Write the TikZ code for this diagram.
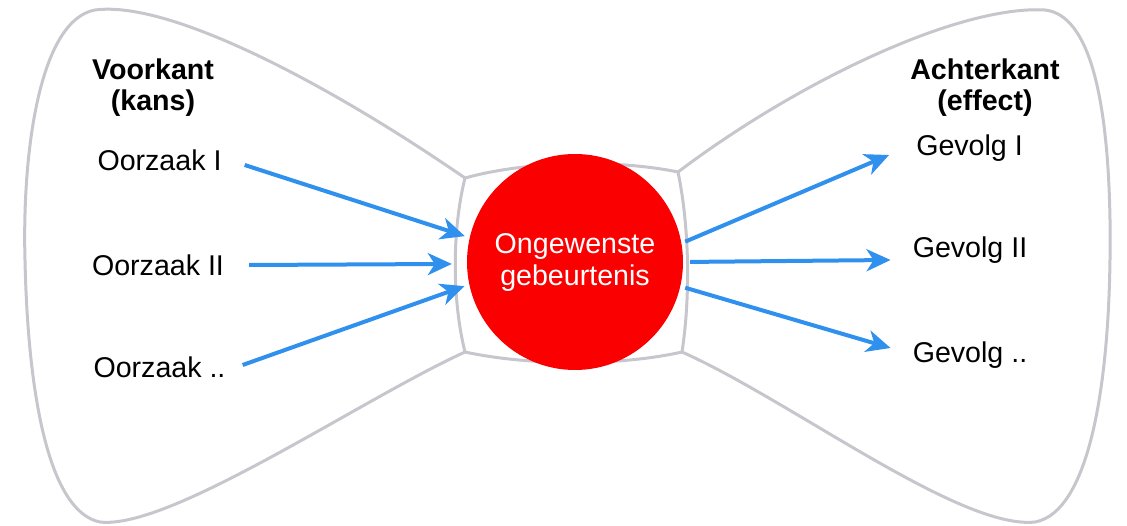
\documentclass[tikz,border=0pt]{standalone}
\usepackage{fontspec}
\setmainfont{Liberation Sans}
\usetikzlibrary{arrows.meta}
\definecolor{bowgray}{RGB}{198,198,204}
\definecolor{arrblue}{RGB}{48,144,238}
\definecolor{evred}{RGB}{250,0,0}
\tikzset{
  lbl/.style={inner sep=0pt, font=\fontsize{28.6}{31}\selectfont, text=black},
  hdr/.style={inner sep=0pt, align=center, font=\fontsize{28.6}{31}\selectfont\bfseries, text=black},
  arr/.style={draw=arrblue, line width=4pt, -{Stealth[length=24pt,width=22pt,inset=7pt]}},
  bow/.style={draw=bowgray, line width=3pt, line join=round}
}
\begin{document}
\begin{tikzpicture}[x=1pt,y=-1pt]
\useasboundingbox (0,0) rectangle (1127,526);
% bow outline
\draw[bow] (465,178) .. controls (330,85) and (170,0) .. (95,10)
  .. controls (40,20) and (22,150) .. (25,260)
  .. controls (28,400) and (50,512) .. (100,522)
  .. controls (170,530) and (360,400) .. (465,352);
\draw[bow] (465,178) .. controls (530,160) and (620,160) .. (678,172)
  .. controls (690,230) and (690,300) .. (682,352)
  .. controls (620,366) and (530,366) .. (465,352)
  .. controls (452,300) and (452,230) .. (465,178);
\draw[bow] (678,172) .. controls (800,80) and (960,5) .. (1045,10)
  .. controls (1090,15) and (1108,100) .. (1110,220)
  .. controls (1112,380) and (1090,512) .. (1035,522)
  .. controls (960,530) and (790,400) .. (682,352);
% central event
\node[circle, fill=evred, minimum size=216pt, inner sep=0pt, align=center,
      font=\fontsize{28.6}{32}\selectfont, text=white] (ev) at (575,262) {Ongewenste\\gebeurtenis};
% headers
\node[hdr] (vk) at (153,88) {Voorkant\\(kans)};
\node[hdr] (ak) at (985,88) {Achterkant\\(effect)};
% causes
\node[lbl] (o1) at (159.5,160) {Oorzaak I};
\node[lbl] (o2) at (158,265) {Oorzaak II};
\node[lbl] (o3) at (159.5,367) {Oorzaak ..};
% effects
\node[lbl] (g1) at (969.5,148) {Gevolg I};
\node[lbl] (g2) at (970,250) {Gevolg II};
\node[lbl] (g3) at (970,355) {Gevolg ..};
% arrows
\draw[arr, shorten >=5pt] ([xshift=23pt,yshift=-5pt]o1.east) -- (ev.167);
\draw[arr, shorten >=15pt] ([xshift=25pt]o2.east) -- (ev.181);
\draw[arr, shorten >=5pt] ([xshift=17pt,yshift=2pt]o3.east) -- (ev.192);
\draw[arr, shorten <=4pt] (ev.10) -- ([xshift=-27pt,yshift=-7pt]g1.west);
\draw[arr, shorten <=7pt] (ev.0) -- ([xshift=-22pt,yshift=-10pt]g2.west);
\draw[arr, shorten <=5pt] (ev.-13) -- ([xshift=-22pt,yshift=7pt]g3.west);
\end{tikzpicture}
\end{document}
